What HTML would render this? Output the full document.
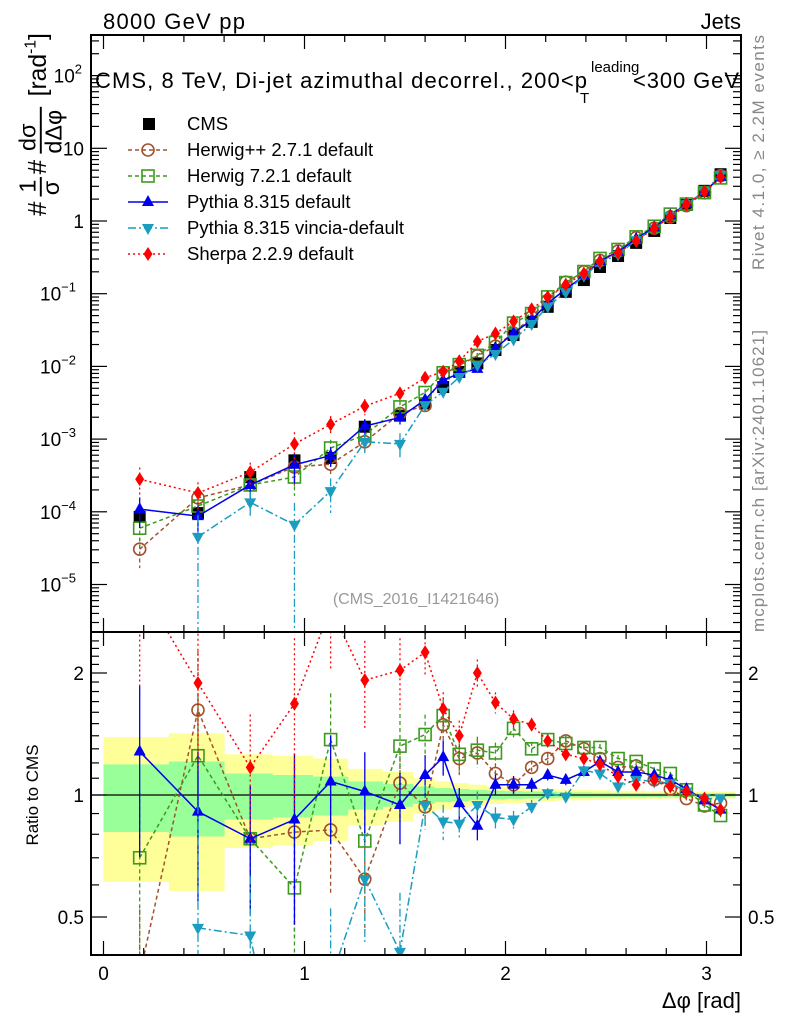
<!DOCTYPE html>
<html><head><meta charset="utf-8"><style>
html,body{margin:0;padding:0;background:#fff;overflow:hidden;width:786px;height:1024px;}
svg{display:block;font-family:"Liberation Sans",sans-serif;}
</style></head><body>
<svg id="c" width="786" height="1024" viewBox="0 0 786 1024">
<text x="103" y="29" font-size="22" textLength="142">8000 GeV pp</text>
<text x="741" y="29" font-size="22" text-anchor="end">Jets</text>
<text transform="translate(764,270) rotate(-90)" font-size="17" fill="#888" textLength="235">Rivet 4.1.0, ≥ 2.2M events</text>
<text transform="translate(764,632) rotate(-90)" font-size="17" fill="#888" textLength="302">mcplots.cern.ch [arXiv:2401.10621]</text>
<g id="plot"></g>
<g>
<text x="95" y="88" font-size="22" textLength="492">CMS, 8 TeV, Di-jet azimuthal decorrel., 200&lt;p</text>
<text x="591" y="72" font-size="15">leading</text>
<text x="580" y="103" font-size="15">T</text>
<text x="633" y="88" font-size="22" textLength="106">&lt;300 GeV</text>
</g>
<text x="416" y="604" font-size="16" fill="#999" text-anchor="middle">(CMS_2016_I1421646)</text>
<g transform="translate(46,216) rotate(-90) scale(1.3)">
  <text x="0" y="0" font-size="20">#</text>
  <text x="18" y="-8" font-size="18">1</text><line x1="15" y1="-4" x2="30" y2="-4" stroke="#000" stroke-width="1.5"/><text x="16" y="10" font-size="18">σ</text>
  <text x="32" y="0" font-size="20">#</text>
  <text x="50" y="-8" font-size="18">dσ</text><line x1="48" y1="-4" x2="84" y2="-4" stroke="#000" stroke-width="1.5"/><text x="48" y="12" font-size="18">dΔφ</text>
  <text x="92" y="0" font-size="19">[rad<tspan font-size="12" dy="-8">-1</tspan><tspan dy="8">]</tspan></text>
</g>
<text transform="translate(38,795) rotate(-90)" font-size="17" text-anchor="middle">Ratio to CMS</text>
<text x="741" y="1008" font-size="22" text-anchor="end">Δφ [rad]</text>
</svg>
<script>
const xs=[0.18,0.47,0.73,0.95,1.13,1.30,1.475,1.60,1.69,1.77,1.86,1.95,2.04,2.13,2.21,2.30,2.39,2.47,2.56,2.65,2.74,2.82,2.90,2.99,3.07];
const cms=[8.5e-5,9.6e-5,3.0e-4,5.1e-4,5.5e-4,1.48e-3,2.1e-3,3.1e-3,5.2e-3,8.4e-3,1.1e-2,1.68e-2,2.7e-2,4.1e-2,6.6e-2,0.106,0.154,0.233,0.33,0.50,0.73,1.1,1.66,2.6,4.4];
const bandTot=[0.39,0.42,0.26,0.25,0.23,0.16,0.14,0.10,0.08,0.07,0.06,0.05,0.045,0.04,0.035,0.03,0.03,0.028,0.025,0.025,0.022,0.02,0.02,0.02,0.02];
const bandStat=[0.19,0.21,0.13,0.12,0.11,0.08,0.065,0.05,0.04,0.035,0.03,0.025,0.022,0.02,0.018,0.015,0.015,0.013,0.012,0.012,0.011,0.01,0.01,0.01,0.01];
const rHerwigPP=[0.36,1.62,0.78,0.81,0.82,0.62,1.07,0.935,1.49,1.23,1.27,1.13,1.06,1.17,1.23,1.36,1.30,1.23,1.17,1.18,1.09,1.035,0.98,0.94,0.955];
const rHerwig7=[0.70,1.25,0.78,0.59,1.37,0.77,1.32,1.41,1.57,1.26,1.29,1.27,1.46,1.30,1.37,1.34,1.31,1.31,1.23,1.21,1.16,1.13,1.03,0.945,0.89];
const rPythia=[1.28,0.91,0.78,0.87,1.08,1.02,0.945,1.12,1.24,0.955,0.84,1.06,1.06,1.06,1.12,1.09,1.14,1.21,1.14,1.14,1.12,1.09,1.035,0.97,0.92];
const rVincia=[null,0.47,0.45,0.13,0.35,0.62,0.41,0.945,0.86,0.85,0.945,0.88,0.87,0.935,1.01,0.99,1.15,1.13,1.05,1.09,1.08,1.07,1.02,0.98,0.98];
const rSherpa=[3.3,1.89,1.17,1.68,2.9,1.92,2.03,2.25,1.63,1.40,2.0,1.69,1.54,1.49,1.36,1.26,1.23,1.19,1.11,1.06,1.09,1.05,1.02,0.98,0.92];
const relErr=[0.45,0.4,0.35,0.45,0.3,0.25,0.2,0.12,0.1,0.09,0.08,0.06,0.05,0.04,0.03,0.03,0.02,0.02,0.02,0.015,0.01,0.01,0.01,0.01,0.01];
const vinciaErr=[0,1.0,0.4,1.0,0.5,0.3,0.4,0.12,0.1,0.09,0.08,0.06,0.05,0.04,0.03,0.03,0.02,0.02,0.02,0.015,0.01,0.01,0.01,0.01,0.01];
const xTicks=[0,1,2,3];
const mainTicks=[-5,-4,-3,-2,-1,0,1,2];
const ratioTicks=[0.5,1,2];

const NS="http://www.w3.org/2000/svg";
const L=91,R=741,T=35,MB=632,RB=955;
const X=v=>103.5+v*201;
const YM=v=>221-Math.log10(v)*72.7;
const YR=v=>795-Math.log2(v)*122;
const g=document.getElementById('plot');
function el(tag,attrs,parent){const e=document.createElementNS(NS,tag);for(const k in attrs)e.setAttribute(k,attrs[k]);(parent||g).appendChild(e);return e;}
const defs=el('defs',{});
const c1=el('clipPath',{id:'cm'},defs);el('rect',{x:L,y:T,width:R-L,height:MB-T},c1);
const c2=el('clipPath',{id:'cr'},defs);el('rect',{x:L,y:MB,width:R-L,height:RB-MB},c2);
const gm=el('g',{'clip-path':'url(#cm)'});


const gr=el('g',{'clip-path':'url(#cr)'});



const edges=[0];for(let i=0;i<xs.length-1;i++)edges.push((xs[i]+xs[i+1])/2);edges.push(Math.PI);
for(let i=0;i<xs.length;i++){
  const b=el('rect',{x:X(edges[i]),width:X(edges[i+1])-X(edges[i])+0.5,y:YR(1+bandTot[i]),height:YR(1-bandTot[i])-YR(1+bandTot[i]),fill:'#ffff99'},gr);
  
  
}
for(let i=0;i<xs.length;i++){
  const b=el('rect',{x:X(edges[i]),width:X(edges[i+1])-X(edges[i])+0.5,y:YR(1+bandStat[i]),height:YR(1-bandStat[i])-YR(1+bandStat[i]),fill:'#99ff99'},gr);
  
  
}
const one=el('line',{x1:L,x2:R,y1:YR(1),y2:YR(1),stroke:'#000','stroke-width':1.2},gr);



const series=[
 {name:'herwigpp',r:rHerwigPP,err:relErr,color:'#a0522d',dash:'4,3',m:'circle',label:'Herwig++ 2.7.1 default'},
 {name:'herwig7',r:rHerwig7,err:relErr,color:'#3c9a1e',dash:'4,3',m:'square',label:'Herwig 7.2.1 default'},
 {name:'pythia',r:rPythia,err:relErr,color:'#0000ee',dash:'',m:'tri',label:'Pythia 8.315 default'},
 {name:'vincia',r:rVincia,err:vinciaErr,color:'#1a9dc0',dash:'8,3,2,3',m:'tridown',label:'Pythia 8.315 vincia-default'},
 {name:'sherpa',r:rSherpa,err:relErr,color:'#ff0000',dash:'2,3',m:'diamond',label:'Sherpa 2.2.9 default'}
];
function marker(type,x,y,color,parent){
  let e;
  if(type==='circle')e=el('circle',{cx:x,cy:y,r:6,fill:'none',stroke:color,'stroke-width':1.6},parent);
  else if(type==='square')e=el('rect',{x:x-6,y:y-6,width:12,height:12,fill:'none',stroke:color,'stroke-width':1.6},parent);
  else if(type==='tri')e=el('polygon',{points:`${x},${y-7} ${x-6},${y+4} ${x+6},${y+4}`,fill:color},parent);
  else if(type==='tridown')e=el('polygon',{points:`${x},${y+7} ${x-6},${y-4} ${x+6},${y-4}`,fill:color},parent);
  else if(type==='diamond')e=el('polygon',{points:`${x},${y-7} ${x-4.5},${y} ${x},${y+7} ${x+4.5},${y}`,fill:color},parent);
  else e=el('rect',{x:x-6,y:y-6,width:12,height:12,fill:color},parent);
  return e;
}
for(let i=0;i<xs.length;i++){
  const m=marker('sq',X(xs[i]),YM(cms[i]),'#000',gm);
  
  
}
series.forEach(s=>{
  const idx=xs.map((x,i)=>i).filter(i=>s.r[i]!==null);
  const vals=cms.map((c,i)=>s.r[i]===null?null:c*s.r[i]);
  const pm=el('polyline',{points:idx.map(i=>X(xs[i])+','+YM(vals[i])).join(' '),fill:'none',stroke:s.color,'stroke-width':1.5,'stroke-dasharray':s.dash},gm);
  
  
  const pr=el('polyline',{points:idx.map(i=>X(xs[i])+','+YR(s.r[i])).join(' '),fill:'none',stroke:s.color,'stroke-width':1.5,'stroke-dasharray':s.dash},gr);
  
  
  idx.forEach(i=>{
    const x=xs[i], e=s.err[i];
    const eb=el('line',{x1:X(x),x2:X(x),y1:YR(s.r[i]*(1+e)),y2:YR(Math.max(s.r[i]*(1-e),0.01)),stroke:s.color,'stroke-width':1.3,'stroke-dasharray':s.dash},gr);
    
    
    const ebm=el('line',{x1:X(x),x2:X(x),y1:YM(vals[i]*(1+e)),y2:YM(Math.max(vals[i]*(1-e),1e-9)),stroke:s.color,'stroke-width':1.3,'stroke-dasharray':s.dash},gm);
    
    
    const m1=marker(s.m,X(x),YM(vals[i]),s.color,gm);
    
    
    const m2=marker(s.m,X(x),YR(s.r[i]),s.color,gr);
    
    
  });
});
const f1=el('rect',{x:L,y:T,width:R-L,height:MB-T,fill:'none',stroke:'#000','stroke-width':2});


const f2=el('rect',{x:L,y:MB,width:R-L,height:RB-MB,fill:'none',stroke:'#000','stroke-width':2});


for(let v=0;v<=3.15;v+=0.2){
  const maj=Math.abs(v-Math.round(v))<1e-6, len=maj?14:7, x=X(v);
  [[T,1],[MB,-1],[MB,1],[RB,-1]].forEach(([y,d])=>el('line',{x1:x,x2:x,y1:y,y2:y+d*len,stroke:'#000','stroke-width':1.2}));
}
xTicks.forEach(v=>{
  const t=el('text',{x:X(v),y:980,'font-size':19,'text-anchor':'middle'});t.textContent=v;
  
  
});
for(let d=-6;d<=2;d++){for(let k=1;k<10;k++){
  const y=YM(k*Math.pow(10,d)); if(y<T||y>MB)continue;
  const len=k===1?16:8;
  el('line',{x1:L,x2:L+len,y1:y,y2:y,stroke:'#000','stroke-width':1.2});
  el('line',{x1:R,x2:R-len,y1:y,y2:y,stroke:'#000','stroke-width':1.2});
}}
mainTicks.forEach(d=>{
  const y=YM(Math.pow(10,d));
  const t=el('text',{x:84,y:y+7,'font-size':19,'text-anchor':'end'});
  if(d===0)t.textContent='1';else if(d===1)t.textContent='10';
  else{t.textContent='10';const s=el('tspan',{'font-size':13,dy:-9},t);s.textContent=String(d).replace('-','−');}
  if(d!==0&&d!==1)t.setAttribute('x',d<0?76:82);
  
  
});
for(let v=0.4;v<=2.5;v+=0.1){
  const y=YR(v); if(y<MB||y>RB)continue;
  const maj=[0.5,1,2].some(m=>Math.abs(m-v)<1e-6), len=maj?16:8;
  el('line',{x1:L,x2:L+len,y1:y,y2:y,stroke:'#000','stroke-width':1.2});
  el('line',{x1:R,x2:R-len,y1:y,y2:y,stroke:'#000','stroke-width':1.2});
}
ratioTicks.forEach(v=>{
  const y=YR(v)+7;
  const t=el('text',{x:84,y:y,'font-size':19,'text-anchor':'end'});t.textContent=v;
  
  
  const t2=el('text',{x:748,y:y,'font-size':19});t2.textContent=v;
  
  
});
const lg=el('g',{});


const rows=[{m:'sq',color:'#000',dash:null,label:'CMS'}].concat(series);
rows.forEach((s,i)=>{
  const y=124+i*26;
  const ge=el('g',{},lg);
  
  
  if(s.dash!==null)el('line',{x1:128,x2:168,y1:y,y2:y,stroke:s.color,'stroke-width':1.5,'stroke-dasharray':s.dash},ge);
  if(s.m==='sq')el('rect',{x:143,y:y-6,width:12,height:12,fill:'#000'},ge);else marker(s.m,148,y,s.color,ge);
  const t=el('text',{x:187,y:y+6,'font-size':18.5},ge);t.textContent=s.label;
});
</script>
</body></html>
